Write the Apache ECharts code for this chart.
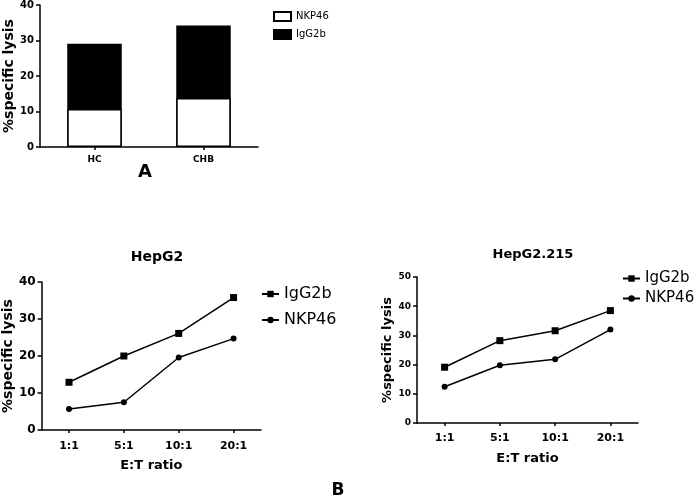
<!DOCTYPE html>
<html>
<head>
<meta charset="utf-8">
<script src="https://cdn.jsdelivr.net/npm/echarts@6/dist/echarts.min.js"></script>
<style>
html,body{margin:0;padding:0;background:#fff;}
#main{width:697px;height:496px;}
</style>
</head>
<body>
<div id="main"></div>
<script>
// Panel A
var groupsA = ['HC', 'CHB'];
var nkp46A = [10.7, 13.8];
var igg2bA = [29.1, 34.2];

// Panel B (HepG2)
var ratios = ['1:1', '5:1', '10:1', '20:1'];
var igg2bHepG2 = [12.9, 20.0, 26.1, 35.8];
var nkp46HepG2 = [5.7, 7.5, 19.6, 24.7];

// Panel B (HepG2.215)
var igg2bHepG2215 = [19.1, 28.2, 31.6, 38.5];
var nkp46HepG2215 = [12.4, 19.8, 21.8, 32.0];

var FONT = 'DejaVu Sans';
var BLACK = '#000';

function yAxis(gridIndex, max, interval, fs, nameGap, nameFs) {
  return {
    type: 'value', gridIndex: gridIndex, min: 0, max: max, interval: interval,
    name: '%specific lysis', nameLocation: 'middle', nameRotate: 90, nameGap: nameGap,
    nameTextStyle: {fontFamily: FONT, fontWeight: 'bold', fontSize: nameFs, color: BLACK},
    axisLine: {show: true, lineStyle: {color: BLACK, width: 1.5}},
    axisTick: {show: true, length: 4, lineStyle: {color: BLACK, width: 1.5}},
    axisLabel: {fontFamily: FONT, fontWeight: 'bold', fontSize: fs, color: BLACK, margin: 6},
    splitLine: {show: false}
  };
}
function xAxis(gridIndex, data, fs, name, margin) {
  var o = {
    type: 'category', gridIndex: gridIndex, data: data, boundaryGap: true,
    axisLine: {show: true, lineStyle: {color: BLACK, width: 1.5}},
    axisTick: {show: true, alignWithLabel: true, length: 3, lineStyle: {color: BLACK, width: 1.5}},
    axisLabel: {fontFamily: FONT, fontWeight: 'bold', fontSize: fs, color: BLACK, margin: margin},
    splitLine: {show: false}
  };
  if (name) {
    o.name = name; o.nameLocation = 'middle'; o.nameGap = 29;
    o.nameTextStyle = {fontFamily: FONT, fontWeight: 'bold', fontSize: 13, color: BLACK};
  }
  return o;
}
function lineSeries(name, idx, data, symbol, size) {
  return {
    name: name, type: 'line', xAxisIndex: idx, yAxisIndex: idx, data: data,
    symbol: symbol, symbolSize: size, showSymbol: true,
    lineStyle: {color: BLACK, width: 1.5}, itemStyle: {color: BLACK},
    animation: false
  };
}
function stripName(n) { return n.replace(/^[abc]_/, ''); }

var option = {
  backgroundColor: '#fff',
  animation: false,
  title: [
    {text: 'A', left: 140, top: 158, textAlign: 'center',
     textStyle: {fontFamily: FONT, fontWeight: 'bold', fontSize: 18, color: BLACK}},
    {text: 'HepG2', left: 152, top: 245, textAlign: 'center',
     textStyle: {fontFamily: FONT, fontWeight: 'bold', fontSize: 14, color: BLACK}},
    {text: 'HepG2.215', left: 528, top: 243, textAlign: 'center',
     textStyle: {fontFamily: FONT, fontWeight: 'bold', fontSize: 13, color: BLACK}},
    {text: 'B', left: 333, top: 477, textAlign: 'center',
     textStyle: {fontFamily: FONT, fontWeight: 'bold', fontSize: 17, color: BLACK}}
  ],
  grid: [
    {left: 40, top: 5, width: 218, height: 142},
    {left: 39, top: 282, width: 222, height: 148},
    {left: 417, top: 277, width: 221, height: 146}
  ],
  xAxis: [
    xAxis(0, groupsA, 9, null, 8),
    xAxis(1, ratios, 11, 'E:T ratio', 11),
    xAxis(2, ratios, 11, 'E:T ratio', 10)
  ],
  yAxis: [
    yAxis(0, 40, 10, 10, 24, 14),
    yAxis(1, 40, 10, 12, 25, 14),
    yAxis(2, 50, 10, 9, 22, 13)
  ],
  legend: [
    {data: [{name: 'a_NKP46'}, {name: 'a_IgG2b'}], left: 268, top: 6, orient: 'vertical',
     itemWidth: 17, itemHeight: 9, itemGap: 7, icon: 'rect', formatter: stripName,
     textStyle: {fontFamily: FONT, fontSize: 10, color: BLACK}},
    {data: ['b_IgG2b', 'b_NKP46'], left: 256, top: 281, orient: 'vertical',
     itemWidth: 17, itemHeight: 8, itemGap: 10, formatter: stripName,
     textStyle: {fontFamily: FONT, fontSize: 16, color: BLACK}},
    {data: ['c_IgG2b', 'c_NKP46'], left: 617, top: 266, orient: 'vertical',
     itemWidth: 17, itemHeight: 8, itemGap: 5, formatter: stripName,
     textStyle: {fontFamily: FONT, fontSize: 15, color: BLACK}}
  ],
  series: [
    {name: 'a_IgG2b', type: 'bar', xAxisIndex: 0, yAxisIndex: 0, data: igg2bA,
     barWidth: '50%', barGap: '-100%',
     itemStyle: {color: BLACK, borderColor: BLACK, borderWidth: 1.5}},
    {name: 'a_NKP46', type: 'bar', xAxisIndex: 0, yAxisIndex: 0, data: nkp46A,
     barWidth: '50%', barGap: '-100%',
     itemStyle: {color: '#fff', borderColor: BLACK, borderWidth: 1.5}},
    lineSeries('b_IgG2b', 1, igg2bHepG2, 'rect', 7),
    lineSeries('b_NKP46', 1, nkp46HepG2, 'circle', 6),
    lineSeries('c_IgG2b', 2, igg2bHepG2215, 'rect', 7),
    lineSeries('c_NKP46', 2, nkp46HepG2215, 'circle', 6)
  ]
};

var chart = echarts.init(document.getElementById('main'), null, {renderer: 'canvas'});
chart.setOption(option);
</script>
</body>
</html>
